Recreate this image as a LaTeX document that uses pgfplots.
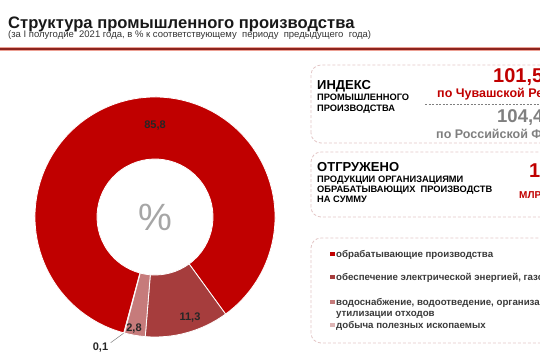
\documentclass[border=0pt]{standalone}
\usepackage{pgfplots}
\pgfplotsset{compat=1.18}
\usepackage{pgfplotstable}
\usepackage{fontspec}
\setmainfont{Liberation Sans}
\definecolor{pA}{HTML}{C00000}
\definecolor{pB}{HTML}{A63D3D}
\definecolor{pC}{HTML}{C67B7B}
\definecolor{pD}{HTML}{DDB4B4}
\definecolor{boxc}{HTML}{E3C6C6}
\definecolor{txt}{HTML}{3A3A3A}
\definecolor{greyv}{HTML}{7F7F7F}
\definecolor{ruleh}{RGB}{236,160,148}
\definecolor{rulec}{RGB}{140,36,30}
\pgfplotstableread{
value
85.8
11.3
2.8
0.1
}\piedata
\newcommand\fs[1]{\fontsize{#1pt}{#1pt}\selectfont}
\pgfplotstablegetelem{0}{value}\of\piedata\let\vA\pgfplotsretval
\pgfplotstablegetelem{1}{value}\of\piedata\let\vB\pgfplotsretval
\pgfplotstablegetelem{2}{value}\of\piedata\let\vC\pgfplotsretval
\pgfplotstablegetelem{3}{value}\of\piedata\let\vD\pgfplotsretval
\pgfmathsetmacro\aA{254.9}
\pgfmathsetmacro\aB{\aA-3.6*\vA}
\pgfmathsetmacro\aC{\aB-3.6*\vB}
\pgfmathsetmacro\aD{\aC-3.6*\vC}
\pgfmathsetmacro\aE{\aD-3.6*\vD}
\begin{document}
\begin{tikzpicture}[x=1pt,y=1pt]
\begin{axis}[at={(0,0)},anchor=south west,x=1pt,y=1pt,
  xmin=0,xmax=540,ymin=0,ymax=360,hide axis,clip=false]
\addplot[ruleh,line width=3.4pt,mark=none] coordinates {(0,311) (540,311)};
\addplot[rulec,line width=1.2pt,mark=none] coordinates {(0,311) (540,311)};
\filldraw[fill=pA,draw=white,line width=0.8pt] (axis cs:155,143) ++(\aA:120pt) arc[start angle=\aA,end angle=\aB,radius=120pt] -- ++(\aB:-62pt) arc[start angle=\aB,end angle=\aA,radius=58pt] -- cycle;
\filldraw[fill=pB,draw=white,line width=0.8pt] (axis cs:155,143) ++(\aB:120pt) arc[start angle=\aB,end angle=\aC,radius=120pt] -- ++(\aC:-62pt) arc[start angle=\aC,end angle=\aB,radius=58pt] -- cycle;
\filldraw[fill=pC,draw=white,line width=0.8pt] (axis cs:155,143) ++(\aC:120pt) arc[start angle=\aC,end angle=\aD,radius=120pt] -- ++(\aD:-62pt) arc[start angle=\aD,end angle=\aC,radius=58pt] -- cycle;
\filldraw[fill=pD,draw=white,line width=0.3pt] (axis cs:155,143) ++(\aD:120pt) arc[start angle=\aD,end angle=\aE,radius=120pt] -- ++(\aE:-62pt) arc[start angle=\aE,end angle=\aD,radius=58pt] -- cycle;
\node[text=gray!70,font=\fs{38}] at (axis cs:155,143) {\%};
\node[font=\bfseries\fs{11},text=black!85] at (axis cs:155,234) {85,8};
\node[font=\bfseries\fs{11},text=black!85] at (axis cs:190,42) {11,3};
\node[font=\bfseries\fs{11},text=black!85] at (axis cs:134,31) {2,8};
\node[font=\bfseries\fs{11},text=black!85] at (axis cs:100.5,12.5) {0,1};
\draw[gray,line width=0.5pt] (axis cs:110.7,17.3) -- (axis cs:123.5,26.7);
\end{axis}
% title
\node[anchor=base west,font=\bfseries\fs{16.6},text=black!90,inner sep=0] at (8,332) {Структура промышленного производства};
\node[anchor=base west,font=\fs{9.5},text=black!80,inner sep=0] at (8,322.5) {(за I полугодие\ \ 2021 года, в \% к соответствующему\ \ периоду\ \ предыдущего\ \ года)};
% box 1
\draw[boxc,dashed,dash pattern=on 3pt off 2pt,rounded corners=10pt,line width=0.8pt] (311,217) rectangle (580,295);
\node[anchor=base west,font=\bfseries\fs{13},inner sep=0] at (317,271) {ИНДЕКС};
\node[anchor=base west,font=\bfseries\fs{9.3},inner sep=0] at (317,260) {ПРОМЫШЛЕННОГО};
\node[anchor=base west,font=\bfseries\fs{9.3},inner sep=0] at (317,249) {ПРОИЗВОДСТВА};
\node[anchor=base west,font=\bfseries\fs{20},text=pA,inner sep=0] at (493,278) {101,5};
\node[anchor=base west,font=\bfseries\fs{12.5},text=pA,inner sep=0] at (437,262.3) {по Чувашской Республике};
\draw[greyv,dashed,dash pattern=on 2pt off 1.5pt,line width=0.6pt] (425,256) -- (560,256);
\node[anchor=base west,font=\bfseries\fs{18.5},text=greyv,inner sep=0] at (497,238) {104,4};
\node[anchor=base west,font=\bfseries\fs{12.5},text=greyv,inner sep=0] at (436,222) {по Российской Федерации};
% box 2
\draw[boxc,dashed,dash pattern=on 3pt off 2pt,rounded corners=10pt,line width=0.8pt] (311,143) rectangle (580,208);
\node[anchor=base west,font=\bfseries\fs{13},inner sep=0] at (317,189) {ОТГРУЖЕНО};
\node[anchor=base west,font=\bfseries\fs{9.3},inner sep=0] at (317,178) {ПРОДУКЦИИ ОРГАНИЗАЦИЯМИ};
\node[anchor=base west,font=\bfseries\fs{9.3},inner sep=0] at (317,168) {ОБРАБАТЫВАЮЩИХ\ \ ПРОИЗВОДСТВ};
\node[anchor=base west,font=\bfseries\fs{9.3},inner sep=0] at (317,158) {НА СУММУ};
\node[anchor=base west,font=\bfseries\fs{20},text=pA,inner sep=0] at (529,183) {1};
\node[anchor=base west,font=\bfseries\fs{10},text=pA,inner sep=0] at (519,162) {МЛРД};
% box 3
\draw[boxc,dashed,dash pattern=on 3pt off 2pt,rounded corners=10pt,line width=0.8pt] (311,17) rectangle (580,122);
\fill[pA] (330,104) rectangle +(4.5,4.5);
\fill[pB] (330,81) rectangle +(4.5,4.5);
\fill[pC] (330,56) rectangle +(4.5,4.5);
\fill[pD] (330,33) rectangle +(4.5,4.5);
\node[anchor=base west,font=\bfseries\fs{9.7},text=txt,inner sep=0] at (336,103) {обрабатывающие производства};
\node[anchor=base west,font=\bfseries\fs{9.7},text=txt,inner sep=0] at (336,80) {обеспечение электрической энергией, газом и паром};
\node[anchor=base west,font=\bfseries\fs{9.7},text=txt,inner sep=0] at (336,55) {водоснабжение, водоотведение, организация сбора и};
\node[anchor=base west,font=\bfseries\fs{9.7},text=txt,inner sep=0] at (336,44) {утилизации отходов};
\node[anchor=base west,font=\bfseries\fs{9.7},text=txt,inner sep=0] at (336,32) {добыча полезных ископаемых};
\pgfresetboundingbox
\path[use as bounding box] (0,0) rectangle (540,360);
\end{tikzpicture}
\end{document}
